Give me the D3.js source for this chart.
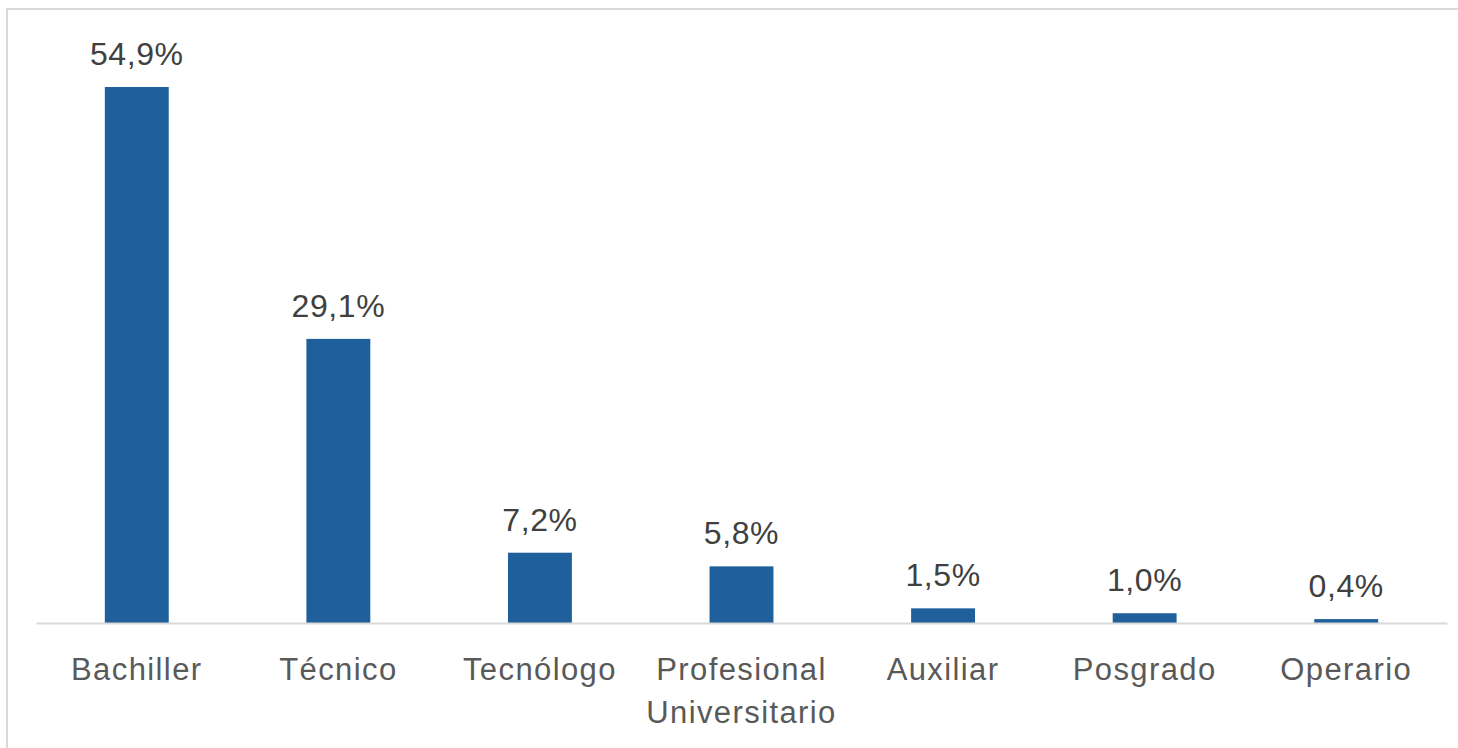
<!DOCTYPE html>
<html>
<head>
<meta charset="utf-8">
<script src="https://cdn.jsdelivr.net/npm/d3@7"></script>
<style>
html,body{margin:0;padding:0;background:#fff;}
svg{display:block;}
</style>
</head>
<body>
<svg id="chart" width="1458" height="748"></svg>
<script>
const categories = ["Bachiller", "Técnico", "Tecnólogo", "Profesional Universitario", "Auxiliar", "Posgrado", "Operario"];
const values = [54.9, 29.1, 7.2, 5.8, 1.5, 1.0, 0.4];
const valueLabels = ["54,9%", "29,1%", "7,2%", "5,8%", "1,5%", "1,0%", "0,4%"];
const categoryLines = [["Bachiller"], ["Técnico"], ["Tecnólogo"], ["Profesional", "Universitario"], ["Auxiliar"], ["Posgrado"], ["Operario"]];

const svg = d3.select("#chart");
const W = 1458, H = 748;
const left = 36, right = 1447, base = 623;
const font = "'Liberation Sans', Arial, sans-serif";

svg.append("rect").attr("x", 7).attr("y", 9).attr("width", W + 10).attr("height", H + 10)
  .attr("fill", "#fff").attr("stroke", "#d9d9d9").attr("stroke-width", 2);

const x = d3.scaleBand().domain(categories).range([left, right])
  .paddingInner(0.683).paddingOuter(0.683 / 2);
const y = d3.scaleLinear().domain([0, 60]).range([base, 37.2]);

svg.append("g").selectAll("rect").data(values).join("rect")
  .attr("x", (d, i) => x(categories[i]))
  .attr("y", d => y(d))
  .attr("width", x.bandwidth())
  .attr("height", d => y(0) - y(d))
  .attr("fill", "#1f5f9b");

const axis = svg.append("g").attr("transform", `translate(0,${y(0)})`)
  .call(d3.axisBottom(x).tickSize(0).tickFormat(""));
axis.select(".domain").attr("stroke", "#d9d9d9").attr("stroke-width", 2);

svg.append("g").selectAll("text").data(values).join("text")
  .attr("x", (d, i) => x(categories[i]) + x.bandwidth() / 2)
  .attr("y", d => y(d) - 22)
  .attr("text-anchor", "middle")
  .attr("font-family", font).attr("font-size", 32)
  .attr("letter-spacing", 0.6)
  .attr("fill", "#404040")
  .text((d, i) => valueLabels[i]);

const cl = svg.append("g");
categories.forEach((c, i) => {
  const t = cl.append("text")
    .attr("x", x(c) + x.bandwidth() / 2)
    .attr("y", y(0) + 57)
    .attr("text-anchor", "middle")
    .attr("font-family", font).attr("font-size", 31)
    .attr("letter-spacing", 1.4)
    .attr("fill", "#595959");
  categoryLines[i].forEach((line, j) => {
    t.append("tspan").attr("x", x(c) + x.bandwidth() / 2).attr("dy", j === 0 ? 0 : 43).text(line);
  });
});
</script>
</body>
</html>
